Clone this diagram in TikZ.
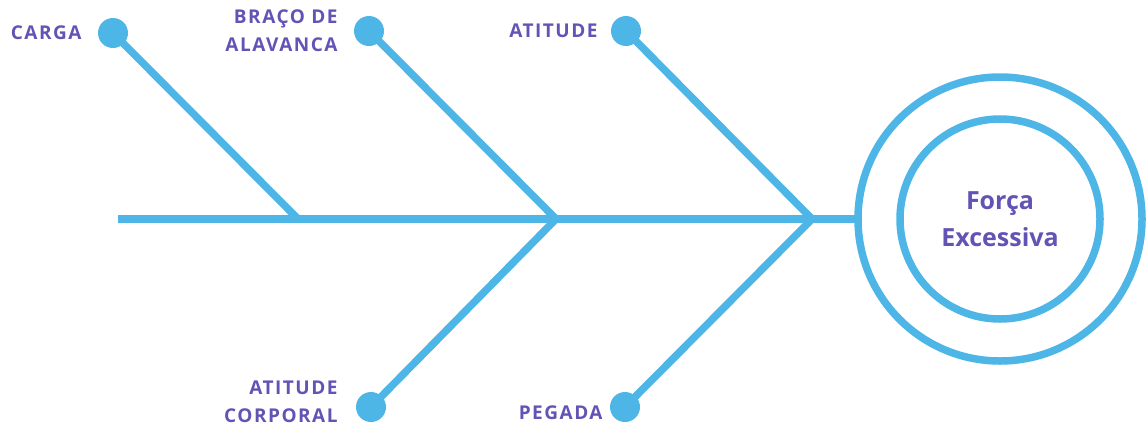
\documentclass[tikz,border=0pt]{standalone}
\usepackage{fontspec}
\setmainfont{Open Sans}
\newfontfamily\capsfont{Open Sans}[LetterSpace=8]
\usetikzlibrary{positioning}
\definecolor{cBone}{RGB}{77,182,230}
\definecolor{cText}{RGB}{98,84,180}
\tikzset{
	bone/.style  ={line width=7.5pt, draw=cBone},
	knob/.style  ={circle, fill=cBone, minimum size=30pt, inner sep=0pt},
	cause/.style ={font=\capsfont\bfseries\fontsize{19}{28}\selectfont, text=cText, align=right, inner sep=0pt},
	ring/.style  ={circle, draw=cBone, line width=7.5pt, inner sep=0pt, outer sep=0pt},
	effect/.style={font=\bfseries\fontsize{25}{37}\selectfont, text=cText, align=center},
}
\begin{document}
\begin{tikzpicture}[x=1pt, y=-1pt]
	\useasboundingbox (0,0) rectangle (1147,426);
	% head
	\node[ring, minimum size=284pt] (outer) at (1000,219) {};
	\node[ring, minimum size=200pt, effect] (inner) at (1000,219) {Força\\Excessiva};
	% spine
	\coordinate (tail) at (118,219);
	\coordinate (j1) at (298,219);
	\coordinate (j2) at (556,219);
	\coordinate (j3) at (812,219);
	\draw[bone] (tail) -- (outer.west);
	% bones
	\node[knob] (carga) at (113,33) {};
	\node[knob] (braco) at (369,31) {};
	\node[knob] (atitude) at (626,31) {};
	\node[knob] (corporal) at (371,407) {};
	\node[knob] (pegada) at (625,407) {};
	\foreach \k/\j in {carga/j1, braco/j2, atitude/j3, corporal/j2, pegada/j3}
		\draw[bone] (\k.center) -- (\j);
	% labels
	\node[cause, left=16pt of carga] (lcarga) {CARGA};
	\node[cause, left=16pt of braco] (lbraco) {BRAÇO DE\\ALAVANCA};
	\node[cause, left=13pt of atitude] (latitude) {ATITUDE};
	\node[cause, left=18pt of corporal, yshift=5pt] (lcorporal) {ATITUDE\\CORPORAL};
	\node[cause, left=7pt of pegada, yshift=-6pt] (lpegada) {PEGADA};
\end{tikzpicture}
\end{document}
